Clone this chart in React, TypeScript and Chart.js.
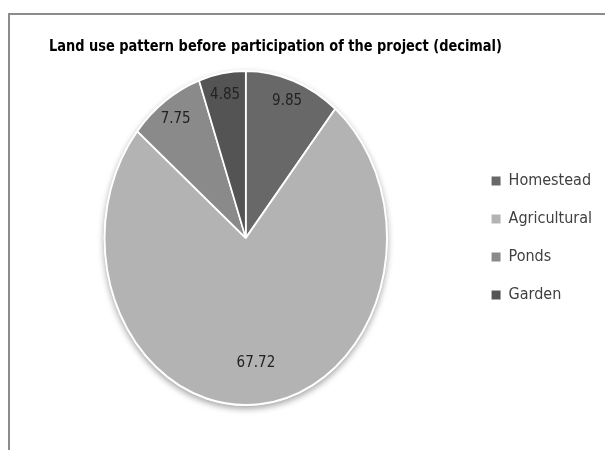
import React, { useEffect, useRef } from "react";
import { Chart, registerables } from "chart.js";

Chart.register(...registerables);

const TITLE = "Land use pattern before participation of the project (decimal)";
const CATEGORIES = ["Homestead", "Agricultural", "Ponds", "Garden"];
const VALUES = [9.85, 67.72, 7.75, 4.85];
const COLORS = ["#686868", "#b3b3b3", "#8a8a8a", "#545454"];

const SQUASH = 0.845;
const TITLE_SQUASH = 0.9;
const LABEL_FONT = "15px 'DejaVu Sans Condensed', 'DejaVu Sans', sans-serif";
const TITLE_FONT = "bold 16px 'DejaVu Sans Condensed', 'DejaVu Sans', sans-serif";

const ellipsePlugin = {
  id: "ellipsePie",
  beforeDatasetsDraw(chart: any) {
    const arc = chart.getDatasetMeta(0).data[0];
    const ctx = chart.ctx;
    ctx.save();
    if (!arc) return;
    const { x, y, outerRadius } = arc.getProps(["x", "y", "outerRadius"], true);
    ctx.save();
    ctx.shadowColor = "rgba(0,0,0,0.35)";
    ctx.shadowBlur = 6;
    ctx.shadowOffsetY = 3;
    ctx.fillStyle = "#ffffff";
    ctx.beginPath();
    ctx.ellipse(x, y, outerRadius * SQUASH + 1, outerRadius + 1, 0, 0, Math.PI * 2);
    ctx.fill();
    ctx.restore();
    ctx.translate(x, y);
    ctx.scale(SQUASH, 1);
    ctx.translate(-x, -y);
  },
  afterDatasetsDraw(chart: any) {
    const ctx = chart.ctx;
    ctx.restore();
    const meta = chart.getDatasetMeta(0);
    ctx.save();
    ctx.font = LABEL_FONT;
    ctx.fillStyle = "#222222";
    ctx.textAlign = "center";
    ctx.textBaseline = "middle";
    meta.data.forEach((arc: any, i: number) => {
      const p = arc.getProps(["x", "y", "startAngle", "endAngle", "outerRadius"], true);
      const span = p.endAngle - p.startAngle;
      const mid = (p.startAngle + p.endAngle) / 2;
      const frac = span > Math.PI ? 0.75 : 0.87;
      const r = p.outerRadius * frac;
      const lx = p.x + SQUASH * r * Math.cos(mid);
      const ly = p.y + r * Math.sin(mid);
      ctx.fillText(VALUES[i].toFixed(2), lx, ly);
    });
    ctx.restore();
  },
  afterDraw(chart: any) {
    const ctx = chart.ctx;
    ctx.save();
    ctx.font = TITLE_FONT;
    ctx.fillStyle = "#000000";
    ctx.textAlign = "center";
    ctx.textBaseline = "middle";
    ctx.translate(275.5, 47);
    ctx.scale(TITLE_SQUASH, 1);
    ctx.fillText(TITLE, 0, 0);
    ctx.restore();
  },
};

export default function App() {
  const ref = useRef<HTMLCanvasElement | null>(null);

  useEffect(() => {
    if (!ref.current) return;
    const baseGen = (Chart as any).overrides.pie.plugins.legend.labels.generateLabels;
    const chart = new Chart(ref.current, {
      type: "pie",
      data: {
        labels: CATEGORIES,
        datasets: [
          {
            data: VALUES,
            backgroundColor: COLORS,
            borderColor: "#ffffff",
            borderWidth: 2,
            hoverOffset: 0,
          },
        ],
      },
      options: {
        animation: false,
        responsive: true,
        maintainAspectRatio: false,
        events: [],
        layout: { padding: { top: 70, bottom: 44, left: 22, right: 3 } },
        plugins: {
          tooltip: { enabled: false },
          title: { display: false },
          legend: {
            position: "right",
            labels: {
              boxWidth: 9,
              boxHeight: 9,
              padding: 22,
              color: "#404040",
              font: { family: "'DejaVu Sans Condensed', 'DejaVu Sans', sans-serif", size: 16 },
              generateLabels: (c: any) =>
                baseGen(c).map((l: any) => ({ ...l, lineWidth: 0, strokeStyle: "rgba(0,0,0,0)" })),
            },
          },
        },
      },
      plugins: [ellipsePlugin],
    } as any);
    return () => chart.destroy();
  }, []);

  return (
    <div
      style={{
        position: "fixed",
        left: 0,
        top: 0,
        width: 605,
        height: 450,
        background: "#ffffff",
        overflow: "hidden",
      }}
    >
      <div
        style={{
          position: "absolute",
          left: 8,
          top: 13,
          width: 700,
          height: 600,
          borderLeft: "2px solid #8c8c8c",
          borderTop: "2px solid #8c8c8c",
        }}
      />
      <div style={{ position: "absolute", left: 0, top: 0, width: 605, height: 450 }}>
        <canvas ref={ref} />
      </div>
    </div>
  );
}
